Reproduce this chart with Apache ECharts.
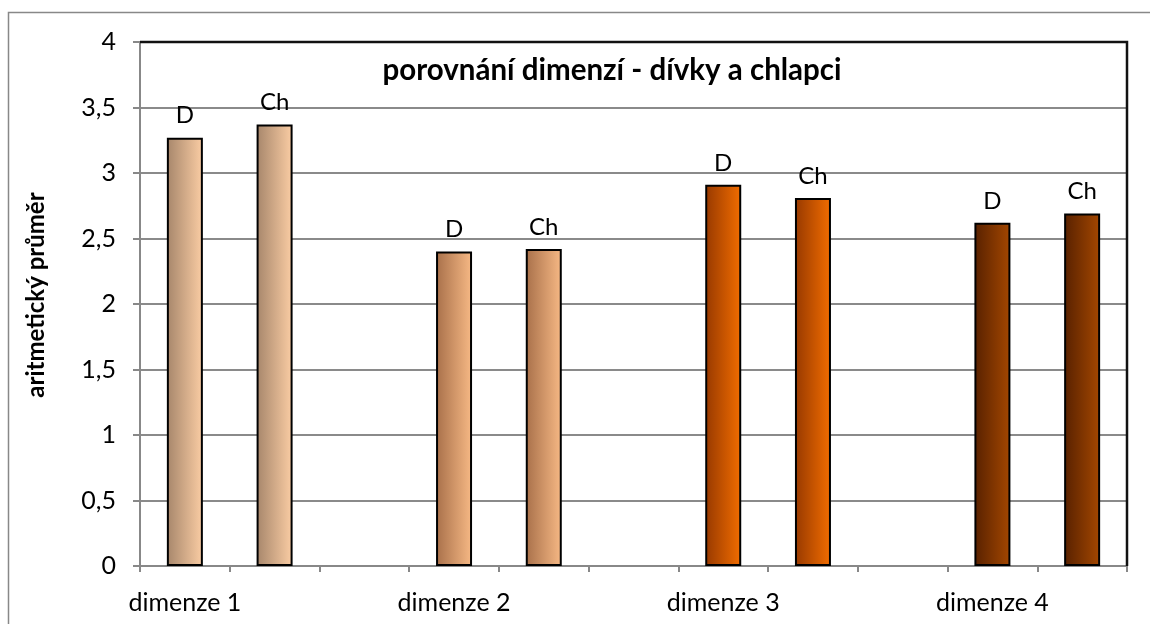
<!DOCTYPE html>
<html>
<head>
<meta charset="utf-8">
<script src="https://cdn.jsdelivr.net/npm/echarts@6/dist/echarts.min.js"></script>
<style>
html,body{margin:0;padding:0;background:#fff;}
#chart{width:1150px;height:624px;}
</style>
</head>
<body>
<div id="chart"></div>
<script>
var categories = ['dimenze 1', '', '', 'dimenze 2', '', '', 'dimenze 3', '', '', 'dimenze 4', ''];
var values = [3.27, 3.37, '-', 2.40, 2.42, '-', 2.91, 2.81, '-', 2.62, 2.69];
var barLabels = ['D', 'Ch', '', 'D', 'Ch', '', 'D', 'Ch', '', 'D', 'Ch'];
var titleText = 'porovnání dimenzí - dívky a chlapci';
var yAxisName = 'aritmetický průměr';

var gradients = [
  ['#a6866b', '#fbcda4'], ['#a6866b', '#fbcda4'], null,
  ['#a8704a', '#f7b985'], ['#a8704a', '#f7b985'], null,
  ['#973900', '#f26d00'], ['#973900', '#f26d00'], null,
  ['#582100', '#a44700'], ['#582100', '#a44700']
];

var data = values.map(function (v, i) {
  var g = gradients[i];
  return {
    value: v,
    label: { formatter: barLabels[i] },
    itemStyle: g ? {
      color: new echarts.graphic.LinearGradient(0, 0, 1, 0, [
        { offset: 0, color: g[0] }, { offset: 1, color: g[1] }
      ])
    } : {}
  };
});

var chart = echarts.init(document.getElementById('chart'));
chart.setOption({
  animation: false,
  backgroundColor: '#fff',
  graphic: [
    { type: 'rect', shape: { x: 8.5, y: 12.5, width: 1200, height: 700 }, style: { fill: 'none', stroke: '#888', lineWidth: 1.5 }, z: -10 },
    { type: 'polyline', shape: { points: [[140, 42], [1127, 42], [1127, 566]] }, style: { fill: 'none', stroke: '#111', lineWidth: 2.5 }, z: 1 },
    { type: 'text', x: 612, y: 70, style: { text: titleText, fontFamily: 'Lato', fontWeight: 'bold', fontSize: 29.5, fill: '#000', textAlign: 'center', textVerticalAlign: 'middle' }, z: 5 },
    { type: 'text', x: 36, y: 295, rotation: Math.PI / 2, style: { text: yAxisName, fontFamily: 'Lato', fontWeight: 'bold', fontSize: 24, fill: '#000', textAlign: 'center', textVerticalAlign: 'middle' } }
  ],
  grid: { left: 140, right: 23, top: 42, bottom: 58, containLabel: false },
  xAxis: {
    type: 'category',
    data: categories,
    axisLine: { lineStyle: { color: '#888', width: 2 } },
    axisTick: { show: true, interval: 0, length: 6, lineStyle: { color: '#888', width: 2 } },
    axisLabel: { interval: 0, margin: 37, fontFamily: 'Lato', fontSize: 25, color: '#000', verticalAlign: 'middle' },
    splitLine: { show: false }
  },
  yAxis: {
    type: 'value',
    min: 0, max: 4, interval: 0.5,
    axisLine: { show: true, lineStyle: { color: '#888', width: 2 } },
    axisTick: { show: true, length: 7, lineStyle: { color: '#888', width: 2 } },
    axisLabel: {
      margin: 24, fontFamily: 'Lato', fontSize: 25, color: '#000',
      formatter: function (v) { return String(v).replace('.', ','); }
    },
    splitLine: { lineStyle: { color: '#8a8a8a', width: 2 } }
  },
  series: [{
    type: 'bar',
    data: data,
    barWidth: 36,
    itemStyle: { borderColor: '#000', borderWidth: 2 },
    label: { show: true, position: 'top', distance: 10, fontFamily: 'Lato', fontSize: 24, color: '#000' }
  }]
});
</script>
</body>
</html>
